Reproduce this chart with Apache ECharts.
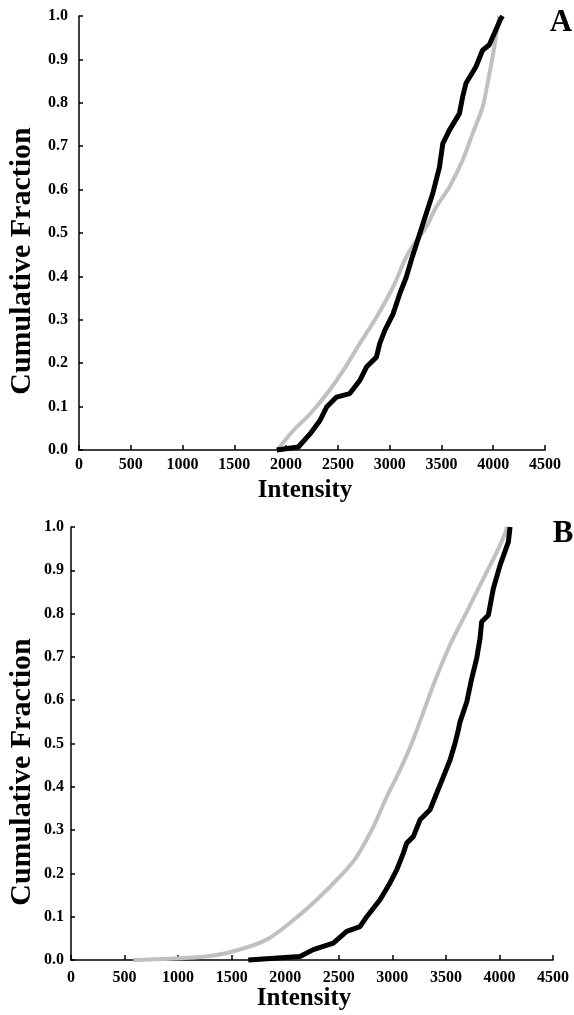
<!DOCTYPE html>
<html>
<head>
<meta charset="utf-8">
<script src="https://cdn.jsdelivr.net/npm/echarts@6/dist/echarts.min.js"></script>
<style>
  body { margin: 0; background: #fff; }
  #main { width: 574px; height: 1015px; }
</style>
</head>
<body>
<div id="main"></div>
<script>
// panel A
var aGrayX = [1915, 2070, 2231, 2391, 2551, 2711, 2872, 3032, 3176, 3353, 3449, 3577, 3705, 3801, 3897, 3945, 4005, 4060];
var aGrayY = [0, 0.045, 0.083, 0.129, 0.183, 0.245, 0.306, 0.375, 0.452, 0.514, 0.56, 0.606, 0.668, 0.729, 0.79, 0.845, 0.921, 1.0];
var aBlackX = [1910, 2118, 2231, 2327, 2391, 2487, 2615, 2711, 2776, 2872, 2904, 2952, 3032, 3096, 3160, 3208, 3270, 3340, 3416, 3481, 3513, 3577, 3673, 3705, 3737, 3833, 3897, 3961, 4074, 4090];
var aBlackY = [0, 0.007, 0.037, 0.068, 0.099, 0.122, 0.13, 0.16, 0.191, 0.214, 0.245, 0.275, 0.313, 0.359, 0.398, 0.437, 0.483, 0.535, 0.591, 0.652, 0.706, 0.737, 0.775, 0.814, 0.845, 0.883, 0.921, 0.933, 0.994, 1.0];

// panel B
var bGrayX = [582, 1204, 1485, 1827, 2076, 2294, 2512, 2668, 2823, 2948, 3072, 3196, 3383, 3539, 3695, 3850, 3975, 4052, 4070];
var bGrayY = [0, 0.007, 0.018, 0.047, 0.092, 0.139, 0.193, 0.239, 0.308, 0.377, 0.439, 0.51, 0.635, 0.728, 0.804, 0.881, 0.942, 0.985, 1.0];
var bBlackX = [1655, 2138, 2262, 2449, 2574, 2698, 2761, 2885, 2978, 3041, 3103, 3134, 3196, 3259, 3352, 3414, 3476, 3539, 3585, 3616, 3632, 3695, 3741, 3788, 3819, 3834, 3896, 3943, 4006, 4083, 4099];
var bBlackY = [0, 0.008, 0.024, 0.039, 0.066, 0.077, 0.1, 0.139, 0.178, 0.208, 0.247, 0.27, 0.285, 0.324, 0.347, 0.385, 0.423, 0.462, 0.5, 0.531, 0.55, 0.596, 0.65, 0.697, 0.743, 0.781, 0.796, 0.858, 0.912, 0.965, 1.0];

var xMax = 4500, xStep = 500;
var xTitle = 'Intensity';
var yTitle = 'Cumulative Fraction';
var panelNames = ['A', 'B'];

function zip(xs, ys) {
    return xs.map(function (x, i) { return [x, ys[i]]; });
}

var serif = '"Liberation Serif", "Times New Roman", serif';
var tickFont = { color: '#000', fontFamily: serif, fontWeight: 'bold', fontSize: 16 };

function xAxisFor(idx, margin) {
    return {
        type: 'value', gridIndex: idx, min: 0, max: xMax, interval: xStep,
        axisLine: { onZero: false, lineStyle: { color: '#000', width: 1.5 } },
        axisTick: { inside: true, length: 5, lineStyle: { color: '#000', width: 1.5 } },
        splitLine: { show: false },
        axisLabel: Object.assign({ margin: margin, formatter: function (v) { return String(v); } }, tickFont)
    };
}
function yAxisFor(idx, margin) {
    return {
        type: 'value', gridIndex: idx, min: 0, max: 1, interval: 0.1,
        axisLine: { show: true, lineStyle: { color: '#000', width: 1.5 } },
        axisTick: { show: true, inside: true, length: 4, lineStyle: { color: '#000', width: 1.5 } },
        splitLine: { show: false },
        axisLabel: Object.assign({ margin: margin, formatter: function (v) { return v.toFixed(1); } }, tickFont)
    };
}
function line(idx, data, color, width, smooth) {
    return {
        type: 'line', xAxisIndex: idx, yAxisIndex: idx, data: data,
        showSymbol: false, clip: false, animation: false,
        smooth: smooth || false,
        lineStyle: { color: color, width: width }
    };
}
function label(text, x, y, size, rot) {
    return {
        type: 'text', x: x, y: y, rotation: rot || 0,
        style: { text: text, fill: '#000', font: 'bold ' + size + 'px ' + serif, align: 'center', verticalAlign: 'middle' }
    };
}

var chart = echarts.init(document.getElementById('main'));
chart.setOption({
    backgroundColor: '#fff',
    animation: false,
    grid: [
        { left: 79, top: 16, width: 466, height: 434 },
        { left: 71, top: 527, width: 482, height: 433 }
    ],
    xAxis: [xAxisFor(0, 7), xAxisFor(1, 10)],
    yAxis: [yAxisFor(0, 11), yAxisFor(1, 7)],
    series: [
        line(0, zip(aGrayX, aGrayY), '#c0c0c0', 4, 0.3),
        line(0, zip(aBlackX, aBlackY), '#000', 5),
        line(1, zip(bGrayX, bGrayY), '#c0c0c0', 4, 0.3),
        line(1, zip(bBlackX, bBlackY), '#000', 5)
    ],
    graphic: [
        label(yTitle, 22, 261, 30, Math.PI / 2),
        label(yTitle, 22, 772, 30, Math.PI / 2),
        label(xTitle, 305, 491, 25),
        label(xTitle, 304, 999, 25),
        label(panelNames[0], 561, 23, 31),
        label(panelNames[1], 563, 534, 31)
    ]
});
</script>
</body>
</html>
